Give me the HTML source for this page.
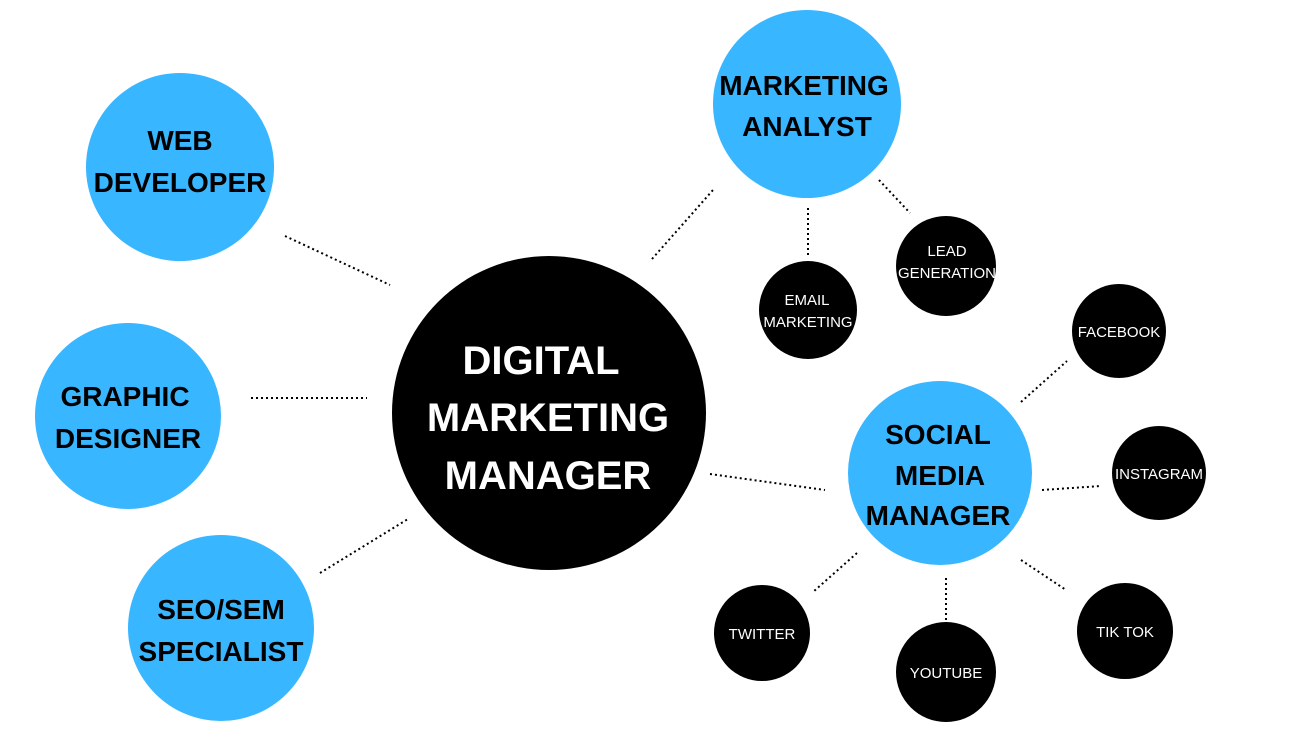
<!DOCTYPE html>
<html><head><meta charset="utf-8"><style>
html,body{margin:0;padding:0;background:#fff;width:1300px;height:731px;overflow:hidden}
svg{display:block}
.b{font-family:"Liberation Sans",sans-serif;font-weight:bold;fill:#000;font-size:28px;text-anchor:middle}
.c{font-family:"Liberation Sans",sans-serif;font-weight:bold;fill:#fff;font-size:40px;text-anchor:middle}
.s{font-family:"Liberation Sans",sans-serif;fill:#fff;font-size:15px;text-anchor:middle}
line{stroke:#000;stroke-width:2;stroke-dasharray:2 3}
</style></head><body>
<svg width="1300" height="731" viewBox="0 0 1300 731">
<g>
<line x1="285" y1="236" x2="390" y2="285"/>
<line x1="251" y1="398" x2="367" y2="398"/>
<line x1="320" y1="573" x2="408" y2="519"/>
<line x1="652" y1="259" x2="713" y2="190"/>
<line x1="808" y1="208" x2="808" y2="255"/>
<line x1="879" y1="180" x2="910" y2="213"/>
<line x1="710" y1="474" x2="825" y2="490"/>
<line x1="1021" y1="402" x2="1067" y2="361"/>
<line x1="1042" y1="490" x2="1101" y2="486"/>
<line x1="1021" y1="560" x2="1066" y2="590"/>
<line x1="946" y1="578" x2="946" y2="622"/>
<line x1="857" y1="553" x2="813" y2="592"/>
</g>
<g fill="#38b6ff">
<circle cx="180" cy="167" r="94"/>
<circle cx="128" cy="416" r="93"/>
<circle cx="221" cy="628" r="93"/>
<circle cx="807" cy="104" r="94"/>
<circle cx="940" cy="473" r="92"/>
</g>
<g fill="#000">
<circle cx="549" cy="413" r="157"/>
<circle cx="808" cy="310" r="49"/>
<circle cx="946" cy="266" r="50"/>
<circle cx="1119" cy="331" r="47"/>
<circle cx="1159" cy="473" r="47"/>
<circle cx="1125" cy="631" r="48"/>
<circle cx="946" cy="672" r="50"/>
<circle cx="762" cy="633" r="48"/>
</g>
<text class="b" x="180" y="150">WEB</text>
<text class="b" x="180" y="192">DEVELOPER</text>
<text class="b" x="125" y="406">GRAPHIC</text>
<text class="b" x="128" y="448">DESIGNER</text>
<text class="b" x="221" y="619">SEO/SEM</text>
<text class="b" x="221" y="661">SPECIALIST</text>
<text class="b" x="804" y="95">MARKETING</text>
<text class="b" x="807" y="136">ANALYST</text>
<text class="b" x="938" y="444">SOCIAL</text>
<text class="b" x="940" y="485">MEDIA</text>
<text class="b" x="938" y="525">MANAGER</text>
<text class="c" x="541" y="374">DIGITAL</text>
<text class="c" x="548" y="431">MARKETING</text>
<text class="c" x="548" y="489">MANAGER</text>
<text class="s" x="807" y="305">EMAIL</text>
<text class="s" x="808" y="327">MARKETING</text>
<text class="s" x="947" y="256">LEAD</text>
<text class="s" x="947" y="278">GENERATION</text>
<text class="s" x="1119" y="337">FACEBOOK</text>
<text class="s" x="1159" y="479">INSTAGRAM</text>
<text class="s" x="1125" y="637">TIK TOK</text>
<text class="s" x="946" y="678">YOUTUBE</text>
<text class="s" x="762" y="639">TWITTER</text>
</svg>
</body></html>
